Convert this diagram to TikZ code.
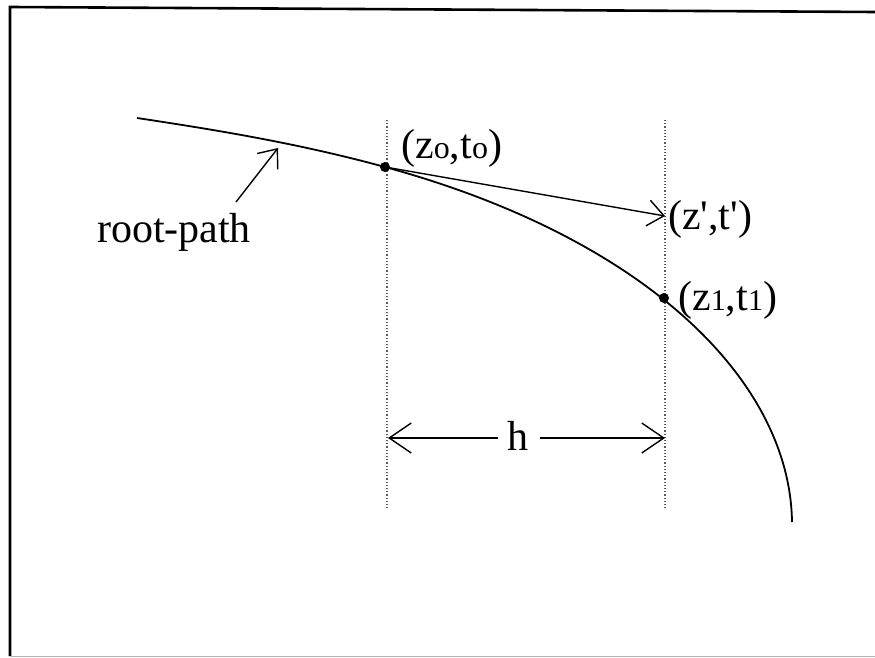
\documentclass[tikz,border=0pt]{standalone}
\usepackage{fontspec}
\setmainfont{Liberation Serif}
\usetikzlibrary{arrows.meta}
\begin{document}
\begin{tikzpicture}[x=1pt,y=-1pt,
  lbl/.style={font=\fontsize{42}{46}\selectfont, inner sep=0pt},
  barb/.style={-{Straight Barb[length=16,width=26,line width=1.4pt]}, line width=1.4pt},
  hbarb/.style={-{Straight Barb[length=22,width=30,line width=1.4pt]}, line width=1.4pt},
  vguide/.style={dotted, line width=1.2pt, gray!70!black},
  dotnode/.style={circle, fill=black, inner sep=0pt, minimum size=10pt},
  curve/.style={line width=1.8pt}]
\useasboundingbox (0,0) rectangle (875,658);
% frame
\draw[line width=2.6pt] (10,656) -- (10,7) -- (875,12);
\draw[line width=1.5pt, gray!60] (10,656.5) -- (875,656.5);
% guides
\coordinate (g1t) at (387,120); \coordinate (g1b) at (387,508);
\coordinate (g2t) at (665,120); \coordinate (g2b) at (665,508);
\draw[vguide] (g1t) -- (g1b);
\draw[vguide] (g2t) -- (g2b);
% points
\node[dotnode] (p0) at (385,167) {};
\node[dotnode] (p1) at (664,298) {};
\coordinate (cs) at (137,118);
\coordinate (ce) at (792,522);
% root path
\draw[curve] (cs) .. controls (220,130.5) and (300,143.8) .. (p0.center)
  .. controls (645,238) and (790,380) .. (ce);
\coordinate (zp) at (665,216);
\draw[barb] (p0.center) -- (zp);
% labels
\node[lbl, anchor=west] (l0) at (401,148) {(z{\fontsize{32}{34}\selectfont o},t{\fontsize{32}{34}\selectfont o})};
\node[lbl, anchor=west] (lp) at (668,219) {(z\textquotesingle,t\textquotesingle)};
\node[lbl, anchor=west] (l1) at (678,300) {(z{\fontsize{30}{34}\selectfont 1},t{\fontsize{30}{34}\selectfont 1})};
\node[lbl] (rp) at (174,232) {root-path};
\coordinate (rpa) at (278,148);
\draw[barb] (236,202) -- (rpa);
% h
\node[lbl] (h) at (518,436) {h};
\coordinate (hl) at (388,438); \coordinate (hr) at (665,438);
\draw[hbarb] (498,438) -- (hl);
\draw[hbarb] (540,438) -- (hr);
\end{tikzpicture}
\end{document}
